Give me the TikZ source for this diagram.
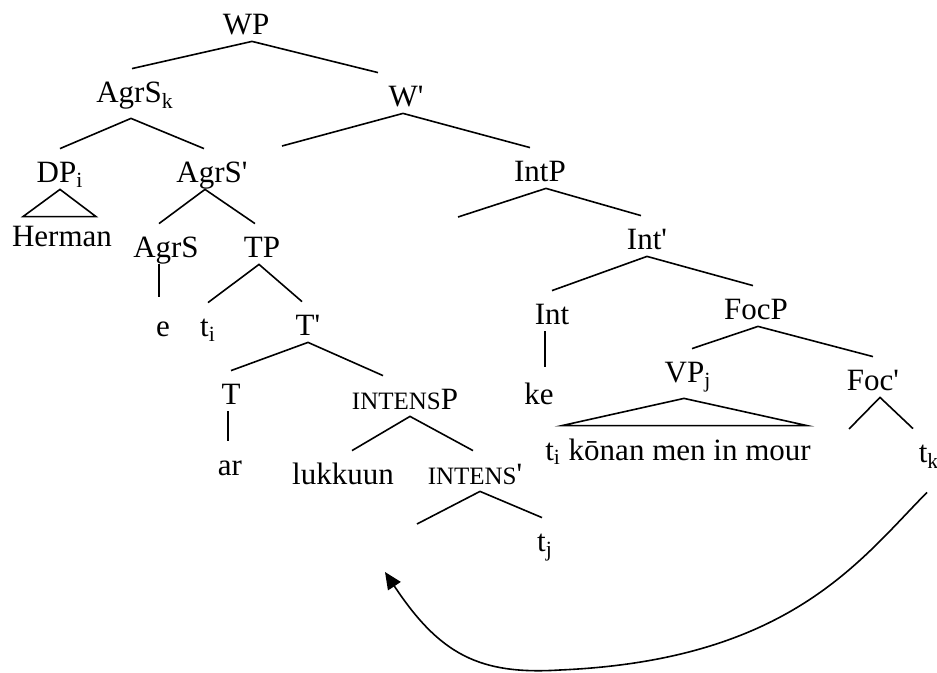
\documentclass[tikz,border=0pt]{standalone}
\usepackage{fontspec}
\setmainfont{Liberation Serif}
\usetikzlibrary{arrows.meta}

\newcommand{\prm}{\textquotesingle}
\newcommand{\smc}[1]{{\fontsize{12.5pt}{14pt}\selectfont #1}}

\tikzset{
  lbl/.style={anchor=base, inner sep=0pt, text height=17pt, text depth=3pt},
  branch/.style={line width=0.8pt},
  movement/.style={line width=0.8pt, -{Triangle[length=8.5pt,width=7.5pt]}}
}

\begin{document}
\begin{tikzpicture}[x=0.5pt, y=-0.5pt, font=\fontsize{15.5pt}{18pt}\selectfont]
\useasboundingbox (0,0) rectangle (937,673);

% labels
\node[lbl] (wp) at (246,35) {WP};
\node[lbl] (agrsk) at (135,103) {AgrS\textsubscript{k}};
\node[lbl] (wbar) at (406,107) {W\prm};
\node[lbl] (dp) at (60,183) {DP\textsubscript{i}};
\node[lbl] (agrsbar) at (212,183) {AgrS\prm};
\node[lbl] (intp) at (540,182) {IntP};
\node[lbl] (herman) at (62,247) {Herman};
\node[lbl] (agrs) at (166,258) {AgrS};
\node[lbl] (tp) at (262,258) {TP};
\node[lbl] (intbar) at (647,250) {Int\prm};
\node[lbl] (e) at (163,337) {e};
\node[lbl] (ti) at (208,337) {t\textsubscript{i}};
\node[lbl] (tbar) at (308,336) {T\prm};
\node[lbl] (int) at (552,325) {Int};
\node[lbl] (focp) at (756,320) {FocP};
\node[lbl] (t) at (231,405) {T};
\node[lbl] (intensp) at (405,410) {\smc{INTENS}P};
\node[lbl] (ke) at (539,405) {ke};
\node[lbl] (vp) at (688,383) {VP\textsubscript{j}};
\node[lbl] (focbar) at (873,391) {Foc\prm};
\node[lbl] (ar) at (230,475) {ar};
\node[lbl] (lukkuun) at (343,485) {lukkuun};
\node[lbl] (intensbar) at (475,485) {\smc{INTENS}\prm};
\node[lbl] (vpstr) at (678,460) {t\textsubscript{i} kōnan men in mour};
\node[lbl] (tk) at (929,463) {t\textsubscript{k}};
\node[lbl] (tj) at (545,552) {t\textsubscript{j}};

% empty specifiers
\coordinate (wspec) at (282,146);
\coordinate (intspec) at (458,217);
\coordinate (intensspec) at (417,524);
\coordinate (focspec) at (849,429);
\coordinate (movetgt) at (385,572);

% branches
\draw[branch] ([xshift=-1.5pt]agrsk.north) -- ([xshift=3pt]wp.south) -- ([xshift=-14pt]wbar.north);
\draw[branch] (dp.north) -- ([xshift=-2pt,yshift=-4.5pt]agrsk.south) -- ([xshift=-4pt]agrsbar.north);
\draw[branch] (wspec) -- ([xshift=-1.5pt]wbar.south) -- ([xshift=-5pt]intp.north);
\draw[branch] ([xshift=-3.5pt]agrs.north) -- ([xshift=-3.5pt]agrsbar.south) -- ([xshift=-3.5pt]tp.north);
\draw[branch] (ti.north) -- ([xshift=-1.5pt]tp.south) -- ([xshift=-3pt]tbar.north);
\draw[branch] (t.north) -- (tbar.south) -- ([xshift=-11pt]intensp.north);
\draw[branch] ([xshift=4.5pt]lukkuun.north) -- ([xshift=2.5pt]intensp.south) -- ([xshift=-1pt]intensbar.north);
\draw[branch] (intensspec) -- ([xshift=2.5pt]intensbar.south) -- ([xshift=-1.5pt]tj.north);
\draw[branch] (intspec) -- ([xshift=3pt]intp.south) -- ([xshift=-3pt]intbar.north);
\draw[branch] (int.north) -- (intbar.south) -- ([xshift=-1.5pt]focp.north);
\draw[branch] ([xshift=2pt]vp.north) -- ([xshift=1pt]focp.south) -- (focbar.north);
\draw[branch] (focspec) -- ([xshift=3.5pt]focbar.south) -- ([xshift=-8pt]tk.north);

% unary branches
\draw[branch] ([xshift=-3.5pt]agrs.south) -- ([xshift=-3.5pt,yshift=3pt]agrs.south |- e.north);
\draw[branch] ([xshift=-1.5pt]t.south) -- ([xshift=-1.5pt]t.south |- ar.north);
\draw[branch] ([xshift=-3.5pt]int.south) -- ([xshift=-3.5pt,yshift=2pt]int.south |- ke.north);

% triangles
\draw[branch] (dp.south) -- ([xshift=-19.5pt,yshift=-2pt]herman.north) -- ([xshift=17pt,yshift=-2pt]herman.north) -- cycle;
\draw[branch] ([xshift=-2pt,yshift=-4.5pt]vp.south) -- ([xshift=-58pt]vpstr.north) -- ([xshift=64.5pt]vpstr.north) -- cycle;

% movement
\draw[movement] ([xshift=-1pt,yshift=-11.5pt]tk.south) .. controls (860,560) and (790,660) .. (560,670)
  .. controls (480,675) and (440,655) .. (movetgt);

\end{tikzpicture}
\end{document}
